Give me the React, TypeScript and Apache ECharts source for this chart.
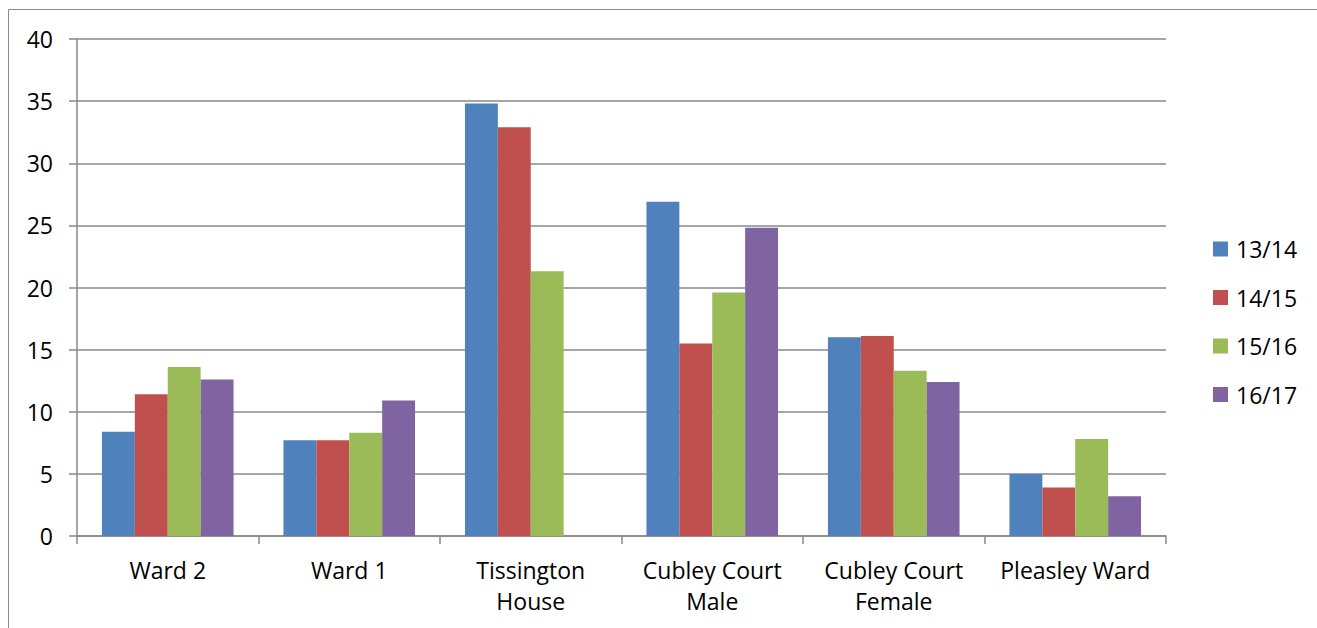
import React, { useEffect, useRef } from "react";
import * as echarts from "echarts";

const categories = [
  "Ward 2",
  "Ward 1",
  "Tissington\nHouse",
  "Cubley Court\nMale",
  "Cubley Court\nFemale",
  "Pleasley Ward",
];
const seriesNames = ["13/14", "14/15", "15/16", "16/17"];
const values1314 = [8.4, 7.7, 34.8, 26.9, 16.0, 5.0];
const values1415 = [11.4, 7.7, 32.9, 15.5, 16.1, 3.9];
const values1516 = [13.6, 8.3, 21.3, 19.6, 13.3, 7.8];
const values1617 = [12.6, 10.9, null, 24.8, 12.4, 3.2];
const colors = ["#4F81BD", "#C0504D", "#9BBB59", "#8064A2"];

const FONT = "'Open Sans', 'Noto Sans', sans-serif";

export default function App() {
  const ref = useRef<HTMLDivElement>(null);
  useEffect(() => {
    if (!ref.current) return;
    const chart = echarts.init(ref.current, undefined, { renderer: "svg" });
    const all = [values1314, values1415, values1516, values1617];
    chart.setOption({
      animation: false,
      backgroundColor: "#ffffff",
      textStyle: { fontFamily: FONT },
      grid: { left: 77, right: 151, top: 39, bottom: 92, containLabel: false },
      legend: {
        orient: "vertical",
        left: 1208,
        top: 232,
        itemWidth: 15,
        itemHeight: 15,
        itemGap: 24.5,
        icon: "rect",
        data: seriesNames,
        textStyle: {
          fontFamily: FONT,
          fontSize: 23,
          color: "#000",
          lineHeight: 24,
          padding: [0, 0, 0, 3],
        },
      },
      xAxis: {
        type: "category",
        data: categories,
        axisLine: { show: true, lineStyle: { color: "#898989", width: 1.5 } },
        axisTick: { show: true, length: 8, lineStyle: { color: "#898989", width: 1.5 } },
        axisLabel: {
          fontFamily: FONT,
          fontSize: 23,
          color: "#000",
          lineHeight: 31,
          margin: 18,
          interval: 0,
        },
      },
      yAxis: {
        type: "value",
        min: 0,
        max: 40,
        interval: 5,
        axisLine: { show: true, lineStyle: { color: "#898989", width: 1.5 } },
        axisTick: { show: true, length: 8, lineStyle: { color: "#898989", width: 1.5 } },
        splitLine: { show: true, lineStyle: { color: "#898989", width: 1.5 } },
        axisLabel: { fontFamily: FONT, fontSize: 23, color: "#000", margin: 24 },
      },
      graphic: [
        {
          type: "rect",
          shape: { x: 8.5, y: 9.5, width: 1400, height: 700 },
          style: { fill: "none", stroke: "#8a8a8a", lineWidth: 1 },
          silent: true,
        },
      ],
      series: seriesNames.map((name, i) => ({
        name,
        type: "bar",
        data: all[i],
        barGap: "0%",
        barCategoryGap: "27.5%",
        itemStyle: { color: colors[i] },
      })),
    });
    return () => chart.dispose();
  }, []);
  return (
    <div
      ref={ref}
      style={{ position: "fixed", left: 0, top: 0, width: 1317, height: 628 }}
    />
  );
}
